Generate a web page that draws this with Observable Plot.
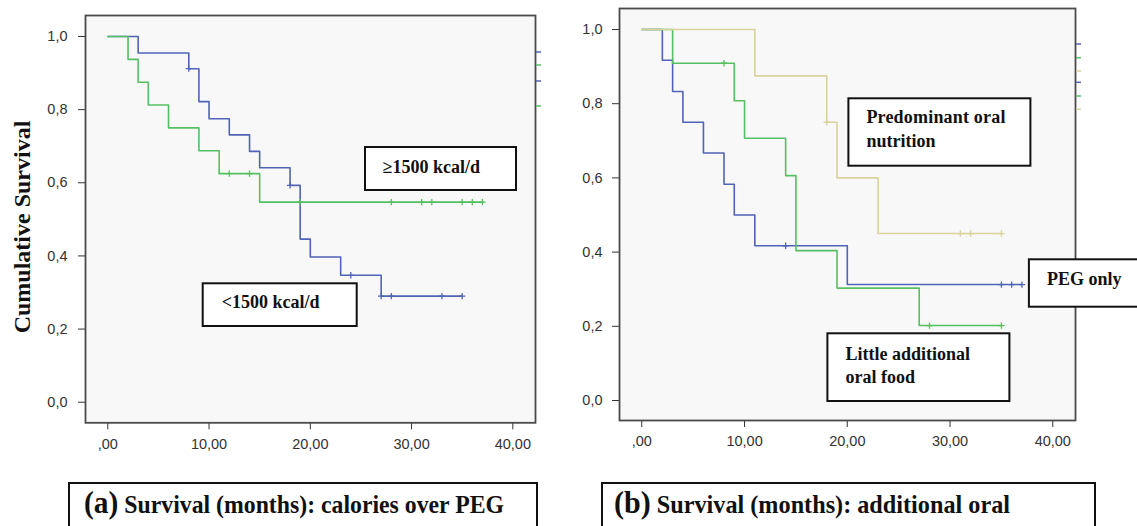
<!DOCTYPE html>
<html>
<head>
<meta charset="utf-8">
<script src="https://cdn.jsdelivr.net/npm/d3@7"></script>
<script src="https://cdn.jsdelivr.net/npm/@observablehq/plot@0.6"></script>
<style>
  html, body { margin: 0; padding: 0; background: #fff; }
  body { width: 1137px; height: 526px; overflow: hidden; position: relative; }
  .plot { position: absolute; top: 0; }
  #overlay { position: absolute; left: 0; top: 0; }
  .ylab { position: absolute; left: 22px; top: 227px; transform: translate(-50%, -50%) rotate(-90deg);
          font: bold 24px "Liberation Serif", "Times New Roman", serif; color: #111; white-space: nowrap; }
</style>
</head>
<body>
<div id="pa" class="plot" style="left:0px"></div>
<div id="pb" class="plot" style="left:560px"></div>
<div class="ylab">Cumulative Survival</div>
<svg id="overlay" width="1137" height="526" xmlns="http://www.w3.org/2000/svg"
     font-family="'Liberation Serif','Times New Roman',serif" font-weight="bold" fill="#111">
  <!-- legend remnants at the right edge of each frame -->
  <g stroke-width="1.5">
    <line x1="536" x2="541" y1="52" y2="52" stroke="#5063b6"/>
    <line x1="536" x2="541" y1="65" y2="65" stroke="#55c062"/>
    <line x1="536" x2="541" y1="81" y2="81" stroke="#5063b6"/>
    <line x1="536" x2="541" y1="106" y2="106" stroke="#55c062"/>
    <line x1="1076" x2="1081" y1="44" y2="44" stroke="#5063b6"/>
    <line x1="1076" x2="1081" y1="57.7" y2="57.7" stroke="#55c062"/>
    <line x1="1076" x2="1081" y1="71" y2="71" stroke="#d8d29c"/>
    <line x1="1076" x2="1081" y1="82.3" y2="82.3" stroke="#5063b6"/>
    <line x1="1076" x2="1081" y1="96" y2="96" stroke="#55c062"/>
    <line x1="1076" x2="1081" y1="109.3" y2="109.3" stroke="#d8d29c"/>
  </g>
  <!-- panel (a) labels -->
  <rect x="365" y="147" width="151" height="43" fill="#fff" stroke="#111" stroke-width="2"/>
  <text x="382.6" y="173" font-size="18">≥1500 kcal/d</text>
  <rect x="202.7" y="283.3" width="154" height="42.7" fill="#fff" stroke="#111" stroke-width="2"/>
  <text x="221.7" y="308" font-size="18">&lt;1500 kcal/d</text>
  <!-- panel (b) labels -->
  <rect x="848.4" y="98.3" width="182" height="67.4" fill="#fff" stroke="#111" stroke-width="2"/>
  <text x="866.4" y="123.3" font-size="18" textLength="139" lengthAdjust="spacing">Predominant oral</text>
  <text x="866.4" y="146.7" font-size="18">nutrition</text>
  <rect x="1028.9" y="259.3" width="120" height="47.4" fill="#fff" stroke="#111" stroke-width="2"/>
  <text x="1047" y="285" font-size="18">PEG only</text>
  <rect x="827.4" y="333.3" width="182" height="67.7" fill="#fff" stroke="#111" stroke-width="2"/>
  <text x="845.4" y="360" font-size="18">Little additional</text>
  <text x="845.4" y="383.3" font-size="18">oral food</text>
  <!-- captions -->
  <rect x="69" y="483" width="468" height="60" fill="#fff" stroke="#111" stroke-width="2"/>
  <text x="84" y="513" font-size="25" textLength="420" lengthAdjust="spacingAndGlyphs"><tspan font-size="31">(a)</tspan> Survival (months): calories over PEG</text>
  <rect x="602" y="483" width="493" height="60" fill="#fff" stroke="#111" stroke-width="2"/>
  <text x="614" y="513" font-size="25" textLength="396" lengthAdjust="spacingAndGlyphs"><tspan font-size="31">(b)</tspan> Survival (months): additional oral</text>
</svg>
<script>
// ---------- shared axis ticks ----------
const xTicks = [0, 10, 20, 30, 40];
const yTicks = [0, 0.2, 0.4, 0.6, 0.8, 1.0];

// ---------- Panel (a): calories over PEG ----------
// <1500 kcal/d (blue)
const lowTimes    = [0, 3, 8, 9, 10, 12, 14, 15, 18, 19, 20, 23, 27, 35];
const lowSurv     = [1, 0.955, 0.912, 0.822, 0.775, 0.731, 0.686, 0.641, 0.593, 0.446, 0.397, 0.347, 0.290, 0.290];
const lowCensored = [8, 18, 24, 27, 28, 33, 35];
// >=1500 kcal/d (green)
const highTimes    = [0, 2, 3, 4, 6, 9, 11, 15, 37];
const highSurv     = [1, 0.9375, 0.875, 0.8125, 0.75, 0.6875, 0.625, 0.547, 0.547];
const highCensored = [12, 14, 19, 28, 31, 32, 35, 36, 37];

// ---------- Panel (b): additional oral ----------
// PEG only (blue)
const pegTimes    = [0, 2, 3, 4, 6, 8, 9, 11, 20, 37];
const pegSurv     = [1, 0.917, 0.833, 0.75, 0.667, 0.583, 0.5, 0.417, 0.3125, 0.3125];
const pegCensored = [14, 35, 36, 37];
// Little additional oral food (green)
const littleTimes    = [0, 3, 9, 10, 14, 15, 19, 27, 35];
const littleSurv     = [1, 0.909, 0.808, 0.707, 0.606, 0.404, 0.303, 0.202, 0.202];
const littleCensored = [8, 28, 35];
// Predominant oral nutrition (khaki)
const predTimes    = [0, 11, 18, 19, 23, 35];
const predSurv     = [1, 0.875, 0.75, 0.6, 0.45, 0.45];
const predCensored = [18, 31, 32, 35];

const BLUE = "#5063b6", GREEN = "#55c062", KHAKI = "#d8d29c";

function steps(times, surv) { return times.map((t, i) => ({t, s: surv[i]})); }
function censors(times, surv, cens) {
  return cens.map(t => {
    let s = surv[0];
    times.forEach((tt, i) => { if (tt <= t) s = surv[i]; });
    return {t, s};
  });
}
const fmtX = d => d === 0 ? ",00" : d.toFixed(2).replace(".", ",");
const fmtY = d => d.toFixed(1).replace(".", ",");

function panel(series, cfg) {
  const marks = [Plot.frame({fill: "#f8f8f8", stroke: null})];
  for (const s of series) {
    marks.push(Plot.line(steps(s.times, s.surv), {x: "t", y: "s", curve: "step-after", stroke: s.color, strokeWidth: 1.6}));
    marks.push(Plot.dot(censors(s.times, s.surv, s.cens), {x: "t", y: "s", symbol: "plus", r: 2.2, stroke: s.color, strokeWidth: 1.3}));
  }
  marks.push(Plot.frame({stroke: "#4a4a4a", strokeWidth: 1.8}));
  return Plot.plot({
    width: cfg.width, height: 470,
    marginLeft: cfg.ml, marginRight: cfg.mr, marginTop: cfg.mt, marginBottom: cfg.mb,
    style: {background: "transparent", fontFamily: "'Liberation Sans', Arial, sans-serif", fontSize: "14.5px", color: "#333", overflow: "visible"},
    x: {domain: cfg.xd, ticks: xTicks, tickFormat: fmtX, tickSize: 7, tickPadding: 8.5, label: null},
    y: {domain: cfg.yd, ticks: yTicks, tickFormat: fmtY, tickSize: 7, tickPadding: cfg.yp, label: null},
    marks
  });
}

document.getElementById("pa").append(panel([
  {times: lowTimes, surv: lowSurv, cens: lowCensored, color: BLUE},
  {times: highTimes, surv: highSurv, cens: highCensored, color: GREEN}
], {width: 560, ml: 85, mr: 25, mt: 15, mb: 47.7, xd: [-2.2, 42.24], yd: [-0.0563, 1.0574], yp: 11}));

document.getElementById("pb").append(panel([
  {times: pegTimes, surv: pegSurv, cens: pegCensored, color: BLUE},
  {times: littleTimes, surv: littleSurv, cens: littleCensored, color: GREEN},
  {times: predTimes, surv: predSurv, cens: predCensored, color: KHAKI}
], {width: 577, ml: 59, mr: 62, mt: 8, mb: 50, xd: [-2.17, 42.21], yd: [-0.0539, 1.0566], yp: 10}));
</script>
</body>
</html>
